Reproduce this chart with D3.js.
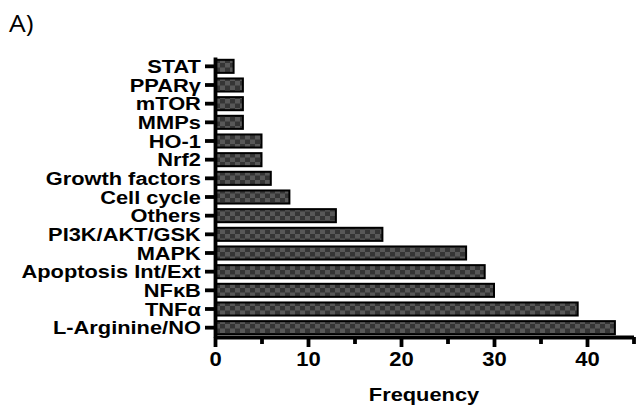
<!DOCTYPE html>
<html lang="en">
  <head>
    <title>Pathway frequency</title>
    <script type="text/javascript" src="https://d3js.org/d3.v7.min.js"></script>
    <style>
      body { margin: 0; background: #fff; }
    </style>
  </head>

  <body>
    <div id="chart"></div>

    <script>
      // data, top row first
      const categories = ["STAT", "PPARγ", "mTOR", "MMPs", "HO-1", "Nrf2", "Growth factors",
        "Cell cycle", "Others", "PI3K/AKT/GSK", "MAPK", "Apoptosis Int/Ext", "NFκB", "TNFα", "L-Arginine/NO"];
      const frequency = [2, 3, 3, 3, 5, 5, 6, 8, 13, 18, 27, 29, 30, 39, 43];
      const majorTicks = [0, 10, 20, 30, 40];
      const minorTicks = [5, 15, 25, 35, 45];

      const width = 636, height = 405;
      const stretch = 1.18; // the source text is a bit wider than it is tall

      let svg = d3.select("#chart")
        .append("svg")
          .attr("width", width)
          .attr("height", height);

      // checkered fill of the bars
      let pat = svg.append("defs").append("pattern")
        .attr("id", "chk")
        .attr("patternUnits", "userSpaceOnUse")
        .attr("width", 10).attr("height", 9);
      pat.append("rect").attr("width", 10).attr("height", 9).attr("fill", "#585858");
      pat.append("rect").attr("width", 5).attr("height", 4.5).attr("fill", "#353535");
      pat.append("rect").attr("x", 5).attr("y", 4.5).attr("width", 5).attr("height", 4.5).attr("fill", "#353535");

      let x = d3.scaleLinear()
        .domain([0, 45])
        .range([215, 633.5]);

      let y = d3.scaleBand()
        .domain(categories)
        .range([57, 337])
        .paddingInner(0.3)
        .paddingOuter(0.15);

      // bars
      svg.append("g")
        .selectAll("rect")
        .data(categories)
        .join("rect")
          .attr("x", x(0))
          .attr("y", d => y(d))
          .attr("width", (d, i) => x(frequency[i]) - x(0))
          .attr("height", y.bandwidth())
          .attr("fill", "url(#chk)")
          .attr("stroke", "#000")
          .attr("stroke-width", 2);

      // x axis, major ticks with labels
      let xAxis = svg.append("g")
        .attr("transform", "translate(0,337)")
        .call(d3.axisBottom(x).tickValues(majorTicks).tickSize(10).tickSizeOuter(0).tickPadding(5));

      // minor ticks
      svg.append("g")
        .attr("transform", "translate(0,337)")
        .call(d3.axisBottom(x).tickValues(minorTicks).tickSize(7).tickSizeOuter(0).tickFormat(""))
        .select(".domain").remove();

      // y axis
      let yAxis = svg.append("g")
        .attr("transform", "translate(215,0)")
        .call(d3.axisLeft(y).tickSize(10).tickSizeOuter(0).tickPadding(2));

      svg.selectAll(".domain, .tick line")
        .attr("stroke", "#000")
        .attr("stroke-width", 3.8);

      xAxis.selectAll("text")
        .attr("fill", "#000")
        .style("font-family", "'Liberation Sans', Arial, sans-serif")
        .style("font-weight", "bold")
        .style("font-size", "20px")
        .attr("transform", "scale(1.1,1)");

      yAxis.selectAll("text")
        .attr("fill", "#000")
        .style("font-family", "'Liberation Sans', Arial, sans-serif")
        .style("font-weight", "bold")
        .style("font-size", "18.5px")
        .attr("dy", "0.36em")
        .attr("transform", "scale(" + stretch + ",1)");

      // axis title (sits at the bottom edge like the source)
      svg.append("text")
        .attr("transform", "translate(424,401) scale(" + stretch + ",1)")
        .attr("text-anchor", "middle")
        .style("font-family", "'Liberation Sans', Arial, sans-serif")
        .style("font-weight", "bold")
        .style("font-size", "18.5px")
        .text("Frequency");

      // panel letter
      svg.append("text")
        .attr("transform", "translate(9,32) scale(1.1,1)")
        .style("font-family", "'Open Sans', sans-serif")
        .style("font-size", "24px")
        .text("A)");
    </script>
  </body>
</html>
